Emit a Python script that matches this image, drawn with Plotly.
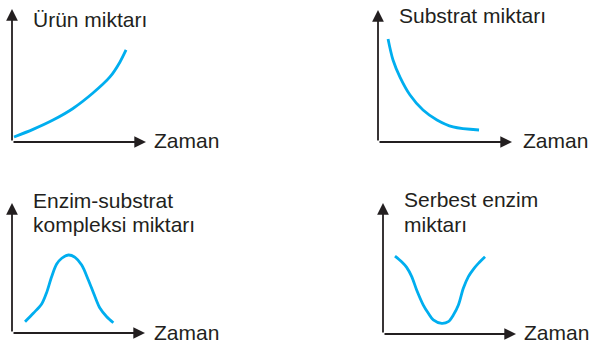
import plotly.graph_objects as go

W, H = 590, 343

# Ürün miktarı (product) vs time
t_product = [0.15, 1.57, 3.06, 4.55, 6.04, 7.31, 8.06, 8.51]
product = [0.38, 0.95, 1.65, 2.52, 3.68, 4.89, 6.02, 6.92]

# Substrat miktarı (substrate) vs time
t_substrate = [0.75, 1.12, 1.64, 2.39, 3.36, 4.40, 5.60, 7.54]
substrate = [7.80, 6.21, 4.92, 3.56, 2.42, 1.67, 1.14, 0.91]

# Enzim-substrat kompleksi miktarı vs time
t_complex = [0.98, 1.60, 2.23, 2.60, 2.98, 3.36, 3.74, 4.24, 4.74, 5.24, 5.74, 6.24, 6.62, 7.12, 7.62]
complex_ = [0.87, 1.52, 2.23, 3.10, 4.33, 5.30, 5.75, 6.00, 5.82, 5.23, 4.08, 2.79, 1.90, 1.25, 0.79]

# Serbest enzim miktarı vs time
t_free = [0.90, 1.40, 1.78, 2.16, 2.53, 3.03, 3.41, 3.78, 4.41, 4.91, 5.29, 5.67, 6.04, 6.42, 6.79, 7.17, 7.67]
free_enzyme = [5.95, 5.52, 5.09, 4.38, 3.36, 2.21, 1.58, 1.07, 0.81, 0.94, 1.45, 2.21, 3.49, 4.38, 4.94, 5.39, 5.90]

x_label = "Zaman"
titles = [["Ürün miktarı"], ["Substrat miktarı"],
          ["Enzim-substrat", "kompleksi miktarı"], ["Serbest enzim", "miktarı"]]

CURVE = "#00aeef"
INK = "#231f20"
FONT = "Liberation Sans, Arial, sans-serif"

# panel frames in pixels: (origin x, origin y, x-arrow tip, y-arrow tip)
frames = [(12, 142, 146, 9), (378, 142, 512, 10), (12, 333, 145, 203), (383, 334, 516, 203)]
series = [(t_product, product), (t_substrate, substrate), (t_complex, complex_), (t_free, free_enzyme)]
# label positions in pixels: title lines (left, centre y list), x label (left, centre y)
title_pos = [(31, [19.5]), (397, [15.8]), (31, [200.5, 224.5]), (402, [199.5, 224.5])]
xlabel_pos = [(152, 140.5), (521, 140.5), (152, 332.5), (522, 332.5)]


def px(x):
    return x / W


def py(y):
    return 1 - y / H


fig = go.Figure()
annotations = []
layout = {}
for i, ((ox, oy, tx, ty), (xs, ys)) in enumerate(zip(frames, series), start=1):
    sx = "" if i == 1 else str(i)
    layout["xaxis" + sx] = dict(domain=[px(ox), px(tx)], range=[0, 10], visible=False,
                                anchor="y" + sx, fixedrange=True)
    layout["yaxis" + sx] = dict(domain=[py(oy), py(ty)], range=[0, 10], visible=False,
                                anchor="x" + sx, fixedrange=True)
    fig.add_trace(go.Scatter(x=xs, y=ys, mode="lines", xaxis="x" + sx, yaxis="y" + sx,
                             line=dict(color=CURVE, width=2.8, shape="spline", smoothing=0.9),
                             hoverinfo="skip", showlegend=False))
    arrow = dict(text="", showarrow=True, arrowhead=2, arrowsize=1.3, arrowwidth=1.8,
                 arrowcolor=INK, axref="pixel", ayref="pixel",
                 xref="x" + sx + " domain", yref="y" + sx + " domain")
    annotations.append(dict(arrow, x=1, y=0, ax=-(tx - ox), ay=0))
    annotations.append(dict(arrow, x=0, y=1, ax=0, ay=(oy - ty)))

for (lx, lys), lines in zip(title_pos, titles):
    for ly, txt in zip(lys, lines):
        annotations.append(dict(text=txt, x=px(lx), y=py(ly), xref="paper", yref="paper",
                                xanchor="left", yanchor="middle", showarrow=False,
                                font=dict(family=FONT, size=21, color=INK)))
for lx, ly in xlabel_pos:
    annotations.append(dict(text=x_label, x=px(lx), y=py(ly), xref="paper", yref="paper",
                            xanchor="left", yanchor="middle", showarrow=False,
                            font=dict(family=FONT, size=21, color=INK)))

fig.update_layout(width=W, height=H, margin=dict(l=0, r=0, t=0, b=0),
                  paper_bgcolor="white", plot_bgcolor="white",
                  annotations=annotations, **layout)

fig.write_html("out.html", config={"displayModeBar": False})
